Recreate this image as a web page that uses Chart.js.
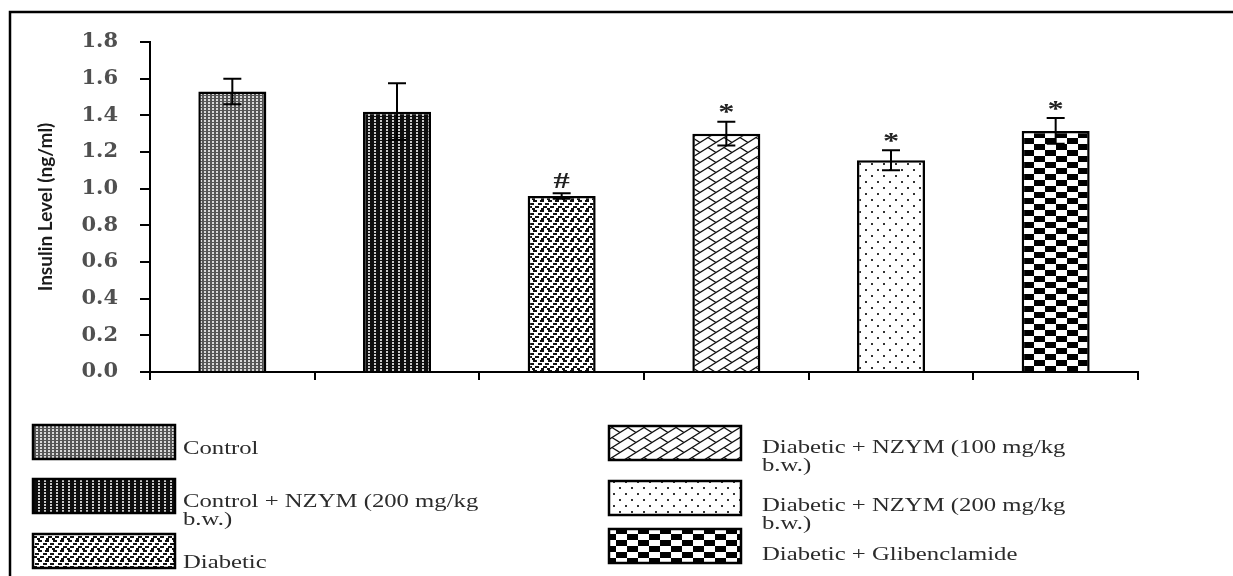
<!DOCTYPE html>
<html>
<head>
<meta charset="utf-8">
<script src="https://cdn.jsdelivr.net/npm/chart.js@4/dist/chart.umd.min.js"></script>
<style>
  html, body { margin: 0; padding: 0; background: #fff; }
  #wrap { width: 1233px; height: 576px; position: relative; }
</style>
</head>
<body>
<div id="wrap"><canvas id="insulinChart"></canvas></div>
<script>
// groups in plotting order
const groups = [
  "Control",
  "Control + NZYM (200 mg/kg b.w.)",
  "Diabetic",
  "Diabetic + NZYM (100 mg/kg b.w.)",
  "Diabetic + NZYM (200 mg/kg b.w.)",
  "Diabetic + Glibenclamide"
];
const insulin = [1.53, 1.42, 0.96, 1.30, 1.155, 1.315];   // ng/ml
const insulinErr = [0.07, 0.155, 0.015, 0.065, 0.055, 0.07];
const marks = ["", "", "#", "*", "*", "*"];
const yTicks = [0, 0.2, 0.4, 0.6, 0.8, 1.0, 1.2, 1.4, 1.6, 1.8];

// --- fill patterns (b/w hatching like the original figure) ---
function makePattern(w, h, draw) {
  const c = document.createElement("canvas");
  c.width = w; c.height = h;
  const g = c.getContext("2d");
  draw(g, w, h);
  return g.createPattern(c, "repeat");
}
function wrapLine(g, w, h, x1, y1, x2, y2) {
  for (const dx of [-w, 0, w]) for (const dy of [-h, 0, h]) {
    g.beginPath(); g.moveTo(x1 + dx, y1 + dy); g.lineTo(x2 + dx, y2 + dy); g.stroke();
  }
}
const patterns = [
  makePattern(4, 3, (g) => {            // fine grey mesh
    g.fillStyle = "#555"; g.fillRect(0, 0, 4, 3);
    g.fillStyle = "#d8d8d8"; g.fillRect(0, 0, 2, 2);
  }),
  makePattern(6, 3, (g) => {            // dark vertical dashes
    g.fillStyle = "#0d0d0d"; g.fillRect(0, 0, 6, 3);
    g.fillStyle = "#c8c8c8"; g.fillRect(2, 0, 2, 2);
  }),
  makePattern(15, 10, (g) => {          // staggered pebble dashes
    g.fillStyle = "#fff"; g.fillRect(0, 0, 15, 10);
    g.fillStyle = "#111";
    g.fillRect(0, 0, 4, 2); g.fillRect(5, 3, 4, 2); g.fillRect(10, 6, 4, 2);
    g.fillRect(8, 0, 4, 2); g.fillRect(13, 3, 2, 2); g.fillRect(0, 3, 2, 2);
    g.fillRect(3, 6, 4, 2); g.fillRect(1, 8, 3, 2); g.fillRect(7, 8, 3, 2);
  }),
  makePattern(16, 10, (g, w, h) => {    // diagonal brick
    g.fillStyle = "#fff"; g.fillRect(0, 0, w, h);
    g.strokeStyle = "#111"; g.lineWidth = 1.3;
    wrapLine(g, w, h, 0, 10, 16, 0);
    wrapLine(g, w, h, 4, 7.5, 12, 12.5);
  }),
  makePattern(12, 12, (g) => {          // sparse dots
    g.fillStyle = "#fff"; g.fillRect(0, 0, 12, 12);
    g.fillStyle = "#333";
    g.fillRect(1, 1, 2, 2); g.fillRect(7, 7, 2, 2);
  }),
  makePattern(22, 12, (g) => {          // checkerboard
    g.fillStyle = "#fff"; g.fillRect(0, 0, 22, 12);
    g.fillStyle = "#000";
    g.fillRect(0, 0, 11, 6); g.fillRect(11, 6, 11, 6);
  })
];

const STRETCH = 1.3; // the figure's text is drawn wide

const framePlugin = {
  id: "frame",
  beforeDraw(chart) {
    const ctx = chart.ctx;
    ctx.save();
    ctx.fillStyle = "#fff";
    ctx.fillRect(0, 0, chart.width, chart.height);
    ctx.restore();
  },
  afterDraw(chart) {
    const ctx = chart.ctx;
    ctx.save();
    ctx.strokeStyle = "#000";
    ctx.lineWidth = 2.5;
    ctx.beginPath();
    ctx.moveTo(10, chart.height);
    ctx.lineTo(10, 12);
    ctx.lineTo(chart.width, 12);
    ctx.stroke();
    ctx.restore();
  }
};

const errorBarPlugin = {
  id: "errorBars",
  afterDatasetsDraw(chart) {
    const ctx = chart.ctx;
    const y = chart.scales.y;
    const bars = chart.getDatasetMeta(0).data;
    ctx.save();
    ctx.strokeStyle = "#000";
    ctx.lineWidth = 2;
    bars.forEach((bar, i) => {
      const top = y.getPixelForValue(insulin[i] + insulinErr[i]);
      const bot = y.getPixelForValue(insulin[i] - insulinErr[i]);
      ctx.beginPath();
      ctx.moveTo(bar.x, top); ctx.lineTo(bar.x, bot);
      ctx.moveTo(bar.x - 9, top); ctx.lineTo(bar.x + 9, top);
      ctx.moveTo(bar.x - 9, bot); ctx.lineTo(bar.x + 9, bot);
      ctx.stroke();
      if (marks[i]) {
        ctx.font = "bold 24px 'Liberation Serif', serif";
        ctx.fillStyle = "#222";
        ctx.textAlign = "center";
        ctx.textBaseline = "alphabetic";
        const m = ctx.measureText(marks[i]);
        const cy = top - 13;
        const base = cy + (m.actualBoundingBoxAscent - m.actualBoundingBoxDescent) / 2;
        ctx.save();
        ctx.translate(bar.x, base);
        ctx.scale(1.35, 1);
        ctx.fillText(marks[i], 0, 0);
        ctx.restore();
      }
    });
    ctx.restore();
  }
};

// legend: two columns of three, big swatches, wrapped labels
const legendSlots = [
  { sx: 33,  sy: 425, sw: 142, tx: 183, ty: 449 },
  { sx: 33,  sy: 479, sw: 142, tx: 183, ty: 502 },
  { sx: 33,  sy: 534, sw: 142, tx: 183, ty: 563 },
  { sx: 609, sy: 426, sw: 132, tx: 762, ty: 448 },
  { sx: 609, sy: 481, sw: 132, tx: 762, ty: 506 },
  { sx: 609, sy: 529, sw: 132, tx: 762, ty: 555 }
];
const legendPlugin = {
  id: "boxLegend",
  afterDraw(chart) {
    const ctx = chart.ctx;
    const ds = chart.data.datasets[0];
    ctx.save();
    chart.data.labels.forEach((label, i) => {
      const s = legendSlots[i];
      ctx.fillStyle = ds.backgroundColor[i];
      ctx.fillRect(s.sx, s.sy, s.sw, 34);
      ctx.strokeStyle = "#000";
      ctx.lineWidth = 2.5;
      ctx.strokeRect(s.sx, s.sy, s.sw, 34);
      const lines = label.includes(" b.w.") ? label.split(" b.w.").map((t, k) => k ? "b.w." + t : t) : [label];
      ctx.fillStyle = "#2b2b2b";
      ctx.font = "19px 'Liberation Serif', serif";
      ctx.textBaseline = "middle";
      ctx.textAlign = "left";
      lines.forEach((ln, k) => {
        ctx.save();
        ctx.translate(s.tx, s.ty + k * 18);
        ctx.scale(STRETCH, 1);
        ctx.fillText(ln, 0, 0);
        ctx.restore();
      });
    });
    ctx.restore();
  }
};

new Chart(document.getElementById("insulinChart"), {
  type: "bar",
  data: {
    labels: groups,
    datasets: [{
      data: insulin,
      backgroundColor: patterns,
      borderColor: "#000",
      borderWidth: 2.5,
      categoryPercentage: 1,
      barPercentage: 0.413
    }]
  },
  options: {
    responsive: true,
    maintainAspectRatio: false,
    animation: false,
    layout: { padding: { left: 20, right: 95, top: 42, bottom: 0 } },
    plugins: { legend: { display: false }, tooltip: { enabled: false } },
    scales: {
      x: {
        ticks: { display: false },
        grid: { drawOnChartArea: false, offset: true, tickLength: 8, color: "#000", lineWidth: 2 },
        border: { color: "#000", width: 2 },
        afterFit: (s) => { s.height = 204; }
      },
      y: {
        min: 0,
        max: 1.8,
        afterBuildTicks: (s) => { s.ticks = yTicks.map((v) => ({ value: v })); },
        ticks: {
          callback: (v) => Number(v).toFixed(1),
          font: { family: "'DejaVu Serif', serif", size: 21, weight: "bold" },
          color: "#505050",
          padding: 22
        },
        grid: { drawOnChartArea: false, tickLength: 10, color: "#000", lineWidth: 2 },
        border: { color: "#000", width: 2 },
        title: {
          display: true,
          text: "Insulin Level (ng/ml)",
          font: { family: "Lato, 'DejaVu Sans Condensed', sans-serif", size: 19, weight: "bold" },
          color: "#1a1a1a",
          padding: { top: 14, bottom: 0 }
        },
        afterFit: (s) => { s.width = 130; }
      }
    }
  },
  plugins: [framePlugin, errorBarPlugin, legendPlugin]
});
</script>
</body>
</html>
